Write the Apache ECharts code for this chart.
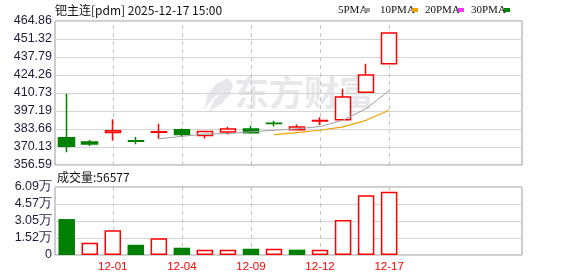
<!DOCTYPE html>
<html><head><meta charset="utf-8">
<script src="https://cdn.jsdelivr.net/npm/echarts@6/dist/echarts.min.js"></script>
<style>html,body{margin:0;padding:0;background:#fff}#c{width:578px;height:276px}</style>
</head><body><div id="c"></div>
<script>
const dates = ['11-27','11-28','12-01','12-02','12-03','12-04','12-05','12-08','12-09','12-10','12-11','12-12','12-15','12-16','12-17'];
const openP  = [377.1, 373.9, 381.1, 374.8, 381.2, 383.1, 378.7, 381.4, 383.6, 388.0, 383.1, 389.7, 390.7, 411.2, 432.8];
const closeP = [370.6, 372.4, 382.4, 374.4, 381.6, 379.6, 381.7, 383.6, 380.9, 387.8, 385.2, 390.0, 407.7, 424.3, 455.8];
const lowP   = [366.1, 370.9, 375.1, 372.1, 376.4, 378.1, 376.6, 379.6, 380.0, 385.6, 383.0, 386.7, 390.5, 410.7, 432.8];
const highP  = [410.2, 375.4, 390.9, 377.6, 387.6, 384.1, 381.9, 385.4, 386.1, 389.9, 387.1, 392.4, 414.0, 432.8, 455.8];
const ma5  = [null, null, null, null, 376.3, 378.1, 379.9, 380.2, 381.5, 382.7, 383.8, 385.5, 390.3, 399.0, 412.6];
const ma10 = [null, null, null, null, null, null, null, null, null, 379.5, 381.0, 382.7, 385.3, 390.2, 397.7];
const volume = [32200, 10900, 22200, 9150, 15100, 6500, 4700, 4700, 5600, 5600, 4800, 4700, 31300, 53500, 56577];
const priceTicks = ['356.59','370.13','383.66','397.19','410.73','424.26','437.79','451.32','464.86'];
const volTicks = ['0','1.52万','3.05万','4.57万','6.09万'];
const labelDates = ['12-01','12-04','12-09','12-12','12-17'];
const emptySlots = ['', ' ', '  ', '   ', '    '];
const priceMin = 356.59, priceMax = 464.86, volMax = 60900;
const titleText = '钯主连[pdm] 2025-12-17 15:00';
const volTitle = '成交量:56577';
const legendNames = ['5PMA','10PMA','20PMA','30PMA'];

const RED = '#ff0000', GREEN = '#008000';
const cats = dates.concat(emptySlots);
const kData = dates.map((d, i) => [openP[i], closeP[i], lowP[i], highP[i]]);
const volData = volume.map((v, i) => {
  const prev = i > 0 ? closeP[i - 1] : openP[0];
  const up = closeP[i] >= prev;
  return {value: v, itemStyle: up ? {color: '#fff', borderColor: RED, borderWidth: 1.5} : {color: GREEN, borderColor: GREEN, borderWidth: 0}};
});
const vLines = labelDates.map(d => ({xAxis: d}));
const labelFont = 'Liberation Sans, Arial, sans-serif';
const legendColors = ['#a0a0a0', '#f0a000', '#ff33ff', '#008000'];
const legendX = [338, 380, 425, 471];
const legendSqX = [364, 412, 458, 504];

const chart = echarts.init(document.getElementById('c'), null, {renderer: 'canvas'});
const frameY = (gi, ticks) => ({
  gridIndex: gi, type: 'value', min: 0, max: ticks.length - 1, interval: 1,
  axisLine: {show: false}, axisTick: {show: false},
  axisLabel: {formatter: v => ticks[Math.round(v)], color: '#1c1c3a', fontSize: 12.5, fontFamily: labelFont, margin: 3},
  splitLine: {lineStyle: {color: '#d4d4d4', width: 1}}
});
const dashLine = {color: '#c4c4c4', type: [4, 4], width: 1};
chart.setOption({
  animation: false,
  grid: [
    {left: 55, top: 21, width: 467, height: 144, show: true, borderColor: '#9a9a9a', borderWidth: 1},
    {left: 55.2, top: 21, width: 460.6, height: 144},
    {left: 55, top: 187, width: 467, height: 68, show: true, borderColor: '#9a9a9a', borderWidth: 1},
    {left: 55.2, top: 187, width: 460.6, height: 68}
  ],
  xAxis: [
    {gridIndex: 0, type: 'value', min: 0, max: 1, show: false},
    {gridIndex: 1, type: 'category', data: cats, boundaryGap: true, axisLine: {show: false}, axisTick: {show: false}, axisLabel: {show: false}, splitLine: {show: false}},
    {gridIndex: 2, type: 'value', min: 0, max: 1, show: false},
    {gridIndex: 3, type: 'category', data: cats, boundaryGap: true, axisLine: {show: false}, axisTick: {show: false}, splitLine: {show: false},
      axisLabel: {interval: (idx, val) => labelDates.includes(val), color: RED, fontSize: 11.5, fontFamily: labelFont, margin: 6}}
  ],
  yAxis: [
    frameY(0, priceTicks),
    {gridIndex: 1, type: 'value', min: priceMin, max: priceMax, show: false},
    frameY(2, volTicks),
    {gridIndex: 3, type: 'value', min: 0, max: volMax, show: false}
  ],
  series: [
    {type: 'line', xAxisIndex: 1, yAxisIndex: 1, data: [], z: 1,
      markLine: {silent: true, symbol: 'none', z: 1, label: {show: false}, lineStyle: dashLine, data: vLines}},
    {type: 'line', xAxisIndex: 3, yAxisIndex: 3, data: [], z: 1,
      markLine: {silent: true, symbol: 'none', z: 1, label: {show: false}, lineStyle: dashLine, data: vLines}},
    {type: 'candlestick', xAxisIndex: 1, yAxisIndex: 1, data: kData, barWidth: 16, z: 5,
      itemStyle: {color: '#fff', color0: GREEN, borderColor: RED, borderColor0: GREEN, borderWidth: 1.5}},
    {type: 'line', xAxisIndex: 1, yAxisIndex: 1, data: ma5, symbol: 'none', z: 6, lineStyle: {color: legendColors[0], width: 1}},
    {type: 'line', xAxisIndex: 1, yAxisIndex: 1, data: ma10, symbol: 'none', z: 6, lineStyle: {color: legendColors[1], width: 1.2}},
    {type: 'bar', xAxisIndex: 3, yAxisIndex: 3, data: volData, barWidth: 16.5, z: 5}
  ],
  graphic: [
    {type: 'polygon', z: 0, silent: true, shape: {points: [[228, 78], [216, 84], [207, 95], [204, 110], [212, 99], [224, 90], [214, 100], [209, 112], [221, 104], [230, 95], [233, 85]]}, style: {fill: '#e8e8ec'}},
    {type: 'text', left: 234, top: 75, z: 0, silent: true, style: {text: '东方财富', fontSize: 35, fontWeight: 'bold', fontFamily: 'Noto Sans CJK SC', fill: '#e8e8ec'}},
    {type: 'text', x: 55, y: 10, style: {text: titleText, fontSize: 12, fontFamily: 'Noto Sans CJK SC, sans-serif', fill: '#111', verticalAlign: 'middle'}},
    {type: 'text', x: 57, y: 177, style: {text: volTitle, fontSize: 12, fontFamily: 'Noto Sans CJK SC, sans-serif', fill: '#111', verticalAlign: 'middle'}}
  ].concat(legendNames.map((n, i) => ({type: 'text', x: legendX[i], y: 10, style: {text: n, fontSize: 11, fontFamily: 'Liberation Serif, serif', fill: '#111', verticalAlign: 'middle'}})))
   .concat(legendNames.map((n, i) => ({type: 'rect', shape: {x: legendSqX[i], y: 8, width: 6, height: 4}, style: {fill: legendColors[i]}})))
});
</script></body></html>
